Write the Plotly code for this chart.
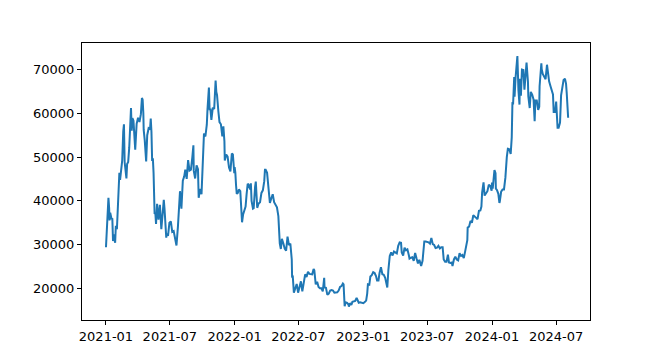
import plotly.graph_objects as go

days_2021 = ["01-01","01-03","01-06","01-08","01-10","01-11","01-13","01-15","01-17","01-19","01-21","01-23","01-25","01-27","01-29",
             "02-01","02-03","02-05","02-08","02-10","02-13","02-16","02-19","02-21","02-23","02-25","02-28",
             "03-02","03-05","03-08","03-10","03-13","03-15","03-17","03-20","03-22","03-25","03-29",
             "04-02","04-06","04-10","04-13","04-15","04-17","04-18","04-21","04-25","04-28",
             "05-02","05-06","05-08","05-10","05-12","05-14","05-16","05-19","05-21","05-23","05-26","05-30",
             "06-03","06-07","06-10","06-14","06-16","06-18","06-21","06-22","06-26","06-30",
             "07-04","07-08","07-12","07-16","07-20","07-24","07-26","07-30",
             "08-03","08-07","08-11","08-14","08-18","08-22","08-26","08-30",
             "09-03","09-06","09-07","09-11","09-15","09-19","09-21","09-25","09-29",
             "10-03","10-06","10-10","10-14","10-16","10-20","10-22","10-24","10-27","10-31",
             "11-04","11-08","11-10","11-12","11-16","11-19","11-23","11-27","11-30",
             "12-03","12-04","12-08","12-12","12-16","12-20","12-24","12-27","12-31"]
prices_2021 = [29400,32800,36800,40700,38300,35500,37300,36800,35800,36000,30800,32100,32300,30400,34300,
               33500,37600,38900,46400,44800,47100,49200,55900,57500,48800,47000,45100,
               48400,48900,52200,56000,61200,56000,58900,58300,54100,51700,57600,
               59000,58000,59800,63500,63100,60000,56200,53800,49000,55000,
               56600,56400,58800,55800,49100,49700,46400,37000,37300,34700,39300,35700,
               39100,33500,36700,40200,38300,35800,31600,32500,32000,35000,
               35300,32900,33100,31500,29800,34000,37300,42200,
               38200,44600,45600,47100,45000,49300,46900,47100,
               50000,52700,46900,45100,48100,47200,40700,42700,41500,
               48200,55400,54700,57400,60900,65900,60700,61100,58500,61300,
               61000,67500,64900,64200,60300,58000,57500,54700,57000,
               53600,49200,50600,50100,47600,46700,50800,50600,46300]

days_2022 = ["01-01","01-03","01-05","01-07","01-10","01-13","01-17","01-21","01-22","01-25","01-29",
             "02-01","02-04","02-07","02-10","02-14","02-16","02-18","02-22","02-24","02-28",
             "03-02","03-06","03-10","03-14","03-18","03-22","03-26","03-28","03-30",
             "04-03","04-07","04-11","04-15","04-19","04-23","04-27",
             "05-01","05-05","05-09","05-12","05-15","05-19","05-23","05-27","05-31",
             "06-04","06-08","06-12","06-13","06-15","06-18","06-22","06-26","06-30",
             "07-04","07-08","07-12","07-16","07-20","07-24","07-28",
             "08-01","08-05","08-09","08-13","08-15","08-19","08-23","08-27","08-31",
             "09-04","09-08","09-12","09-13","09-17","09-21","09-25","09-29",
             "10-03","10-07","10-11","10-15","10-19","10-23","10-27","10-31",
             "11-04","11-06","11-08","11-09","11-12","11-16","11-20","11-21","11-24","11-28",
             "12-01","12-05","12-09","12-13","12-15","12-19","12-23","12-27","12-31"]
prices_2022 = [47700,46400,43500,41600,41800,42600,42200,36500,35100,36900,38200,
               38700,41600,43900,43600,42600,44000,40000,38200,38300,43200,
               44400,38400,39400,39700,41800,42400,44500,47100,47100,
               46400,43500,39500,40600,41500,39700,39200,
               38500,36500,30300,29000,31300,30300,29100,28600,31800,
               29900,30200,26600,22500,22600,19000,19900,21000,19000,
               20200,21600,19300,21200,23200,22600,23800,
               23300,23200,23200,24400,24100,20900,21500,20300,20000,
               20000,19300,22400,20200,20100,18500,18800,19500,
               19600,19500,19000,19100,19100,19500,20300,20500,
               21100,20900,18500,15900,16800,16700,16300,15800,16600,16200,
               16900,17000,17100,17800,17400,16700,16800,16700,16550]

days_2023 = ["01-01","01-05","01-09","01-12","01-14","01-18","01-21","01-25","01-29",
             "02-02","02-06","02-09","02-13","02-16","02-20","02-24","02-28",
             "03-04","03-09","03-10","03-13","03-17","03-21","03-25","03-29",
             "04-02","04-06","04-10","04-14","04-18","04-20","04-24","04-28",
             "05-02","05-06","05-10","05-12","05-16","05-20","05-24","05-28",
             "06-01","06-05","06-09","06-14","06-18","06-21","06-23","06-27",
             "07-01","07-05","07-09","07-13","07-17","07-21","07-25","07-29",
             "08-02","08-06","08-10","08-14","08-17","08-21","08-25","08-29",
             "09-01","09-05","09-09","09-11","09-15","09-19","09-23","09-27",
             "10-01","10-05","10-09","10-13","10-17","10-20","10-23","10-24","10-28",
             "11-01","11-05","11-09","11-13","11-17","11-21","11-25","11-29",
             "12-02","12-04","12-06","12-08","12-11","12-15","12-19","12-23","12-27","12-31"]
prices_2023 = [16600,16850,17200,18800,20900,20800,22700,23000,23700,
               23500,22800,21800,21800,23500,24800,23200,23100,
               22400,20400,20200,24100,27400,28200,27500,28400,
               28200,28000,29700,30500,30400,28200,27500,29300,
               28700,28900,27600,26800,27000,27100,26300,28100,
               26800,25700,26500,25100,26300,30000,30700,30700,
               30600,30500,30200,31500,30100,29900,29200,29300,
               29700,29100,29400,29400,26600,26100,26100,27700,
               25900,25800,25900,25100,26600,27200,26600,26400,
               28000,27400,27600,26900,28500,29700,31000,33900,34100,
               35400,35000,36700,36500,36100,35800,37700,37800,
               38700,41900,43800,44200,41200,41900,42200,43700,43400,42300]

days_2024 = ["01-01","01-03","01-08","01-11","01-12","01-15","01-19","01-22","01-23","01-27","01-31",
             "02-04","02-08","02-12","02-15","02-19","02-23","02-26","02-28",
             "03-01","03-04","03-05","03-08","03-11","03-13","03-16","03-19","03-20","03-23","03-26","03-30",
             "04-02","04-05","04-08","04-12","04-13","04-17","04-20","04-24","04-28",
             "05-01","05-03","05-07","05-11","05-14","05-15","05-20","05-21","05-24","05-28",
             "06-01","06-05","06-07","06-11","06-15","06-18","06-22","06-24","06-28",
             "07-01","07-04","07-05","07-08","07-12","07-15","07-19","07-22","07-26","07-29","07-31",
             "08-02","08-03","08-04"]
prices_2024 = [44200,42800,47000,46300,42800,42500,41600,39500,39800,42100,42600,
               42600,45300,50000,51900,51800,50700,54500,62500,
               62400,68300,63800,68300,72100,73100,65300,62000,67900,64000,70000,69900,
               65400,67800,71600,67200,63900,61200,64900,64300,63100,
               58200,62900,62900,60800,61500,66200,71400,70100,69000,68300,
               67800,71100,69300,67300,66200,65100,64300,60300,60300,
               62700,57000,56700,56700,57900,64100,66700,67600,67900,66800,64600,
               61400,60700,59000]

tick_vals = ["2021-01-01","2021-07-01","2022-01-01","2022-07-01","2023-01-01","2023-07-01","2024-01-01","2024-07-01"]
tick_text = ["2021-01","2021-07","2022-01","2022-07","2023-01","2023-07","2024-01","2024-07"]
y_ticks = [20000, 30000, 40000, 50000, 60000, 70000]

dates, prices = [], []
for year, ds, ps in [(2021, days_2021, prices_2021), (2022, days_2022, prices_2022),
                     (2023, days_2023, prices_2023), (2024, days_2024, prices_2024)]:
    assert len(ds) == len(ps), (year, len(ds), len(ps))
    dates += [f"{year}-{d}" for d in ds]
    prices += ps

fig = go.Figure(go.Scatter(x=dates, y=prices, mode="lines",
                           line=dict(color="#1f77b4", width=2), showlegend=False))

axis_common = dict(showline=True, mirror=True, linecolor="black", linewidth=1,
                   ticks="outside", ticklen=4, tickwidth=1, tickcolor="black",
                   showgrid=False, zeroline=False,
                   tickfont=dict(family="DejaVu Sans", size=13, color="black"))

fig.update_xaxes(type="date", range=["2020-10-25", "2024-10-05"],
                 tickvals=tick_vals, ticktext=tick_text, **axis_common)
fig.update_yaxes(range=[12760, 76070], tickvals=y_ticks,
                 ticktext=[str(v) for v in y_ticks], **axis_common)

# page body has an 8px default margin; size the figure so the plot box lands at x 82-590, y 43-320
fig.update_layout(width=648, height=350, margin=dict(l=74, r=66, t=35, b=38),
                  paper_bgcolor="white", plot_bgcolor="white")

fig.write_html("out.html")
